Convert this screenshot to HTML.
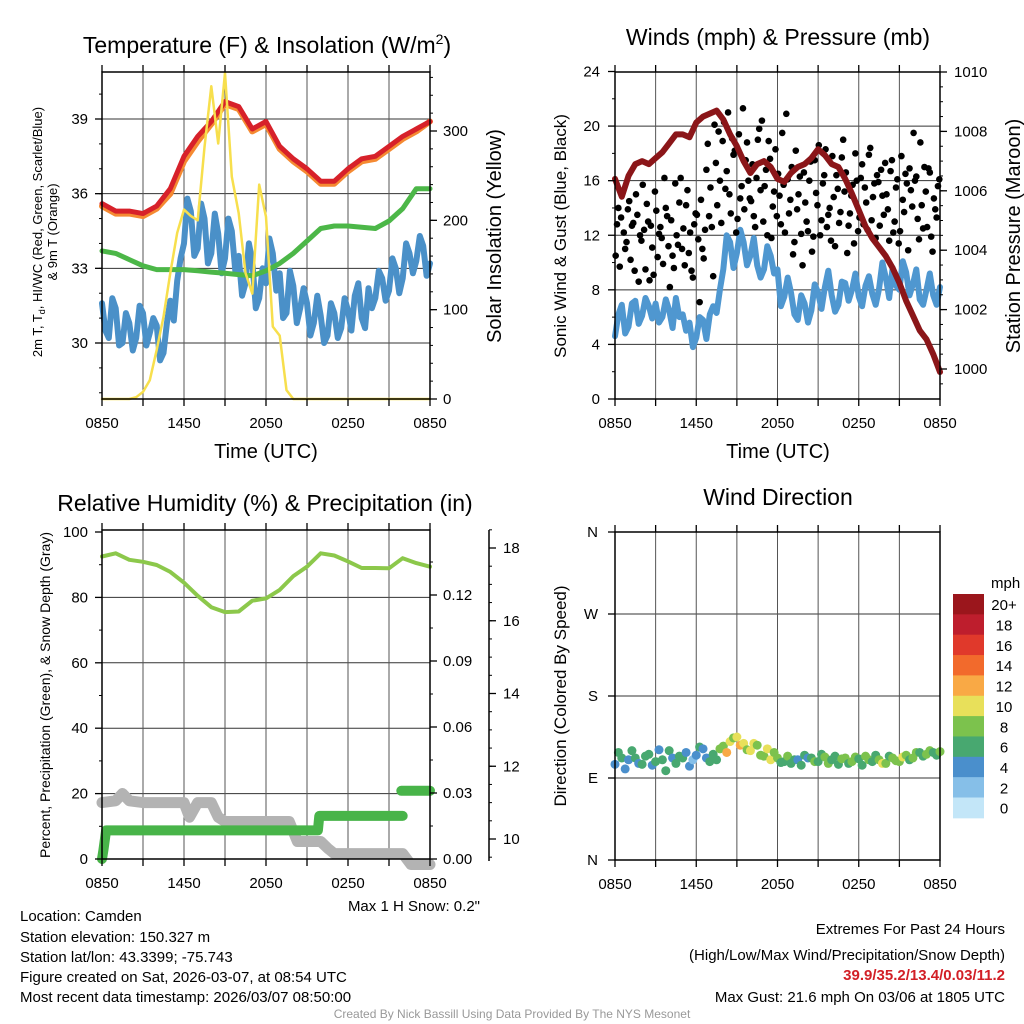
<!DOCTYPE html>
<html><head><meta charset="utf-8"><style>
html,body{margin:0;padding:0;background:#fff}
svg{display:block;font-family:"Liberation Sans",sans-serif}
</style></head><body>
<svg id="chart" width="1024" height="1024" viewBox="0 0 1024 1024" xmlns="http://www.w3.org/2000/svg">
<g id="grid"></g><g id="series"></g><g id="axes"></g>
<g id="texts" font-size="15" fill="#000">
<text x="267" y="53" font-size="23" text-anchor="middle">Temperature (F) &amp; Insolation (W/m<tspan font-size="14" dy="-9">2</tspan><tspan dy="9">)</tspan></text>
<text x="778" y="45" font-size="23" text-anchor="middle">Winds (mph) &amp; Pressure (mb)</text>
<text x="265" y="511" font-size="23" text-anchor="middle">Relative Humidity (%) &amp; Precipitation (in)</text>
<text x="778" y="505" font-size="23" text-anchor="middle">Wind Direction</text>
<text x="266" y="458" font-size="20" text-anchor="middle">Time (UTC)</text>
<text x="778" y="458" font-size="20" text-anchor="middle">Time (UTC)</text>
<text transform="translate(42,232) rotate(-90)" font-size="13" text-anchor="middle">2m T, T<tspan font-size="9" dy="3">d</tspan><tspan dy="-3">, HI/WC (Red, Green, Scarlet/Blue)</tspan></text>
<text transform="translate(57,232) rotate(-90)" font-size="13" text-anchor="middle">&amp; 9m T (Orange)</text>
<text transform="translate(501,236) rotate(-90)" font-size="20" text-anchor="middle">Solar Insolation (Yellow)</text>
<text transform="translate(566,236) rotate(-90)" font-size="17" text-anchor="middle">Sonic Wind &amp; Gust (Blue, Black)</text>
<text transform="translate(1020,236) rotate(-90)" font-size="20" text-anchor="middle">Station Pressure (Maroon)</text>
<text transform="translate(50,695) rotate(-90)" font-size="14" text-anchor="middle">Percent, Precipitation (Green), &amp; Snow Depth (Gray)</text>
<text transform="translate(566,696) rotate(-90)" font-size="17" text-anchor="middle">Direction (Colored By Speed)</text>
<text x="480" y="911" text-anchor="end">Max 1 H Snow: 0.2"</text>
<text x="20" y="921">Location: Camden</text>
<text x="20" y="942">Station elevation: 150.327 m</text>
<text x="20" y="962">Station lat/lon: 43.3399; -75.743</text>
<text x="20" y="982">Figure created on Sat, 2026-03-07, at 08:54 UTC</text>
<text x="20" y="1002">Most recent data timestamp: 2026/03/07 08:50:00</text>
<text x="1005" y="934" text-anchor="end">Extremes For Past 24 Hours</text>
<text x="1005" y="960" text-anchor="end">(High/Low/Max Wind/Precipitation/Snow Depth)</text>
<text x="1005" y="980" text-anchor="end" fill="#d21f26" font-weight="bold">39.9/35.2/13.4/0.03/11.2</text>
<text x="1005" y="1002" text-anchor="end">Max Gust: 21.6 mph On 03/06 at 1805 UTC</text>
<text x="512" y="1018" font-size="12" fill="#999" text-anchor="middle">Created By Nick Bassill Using Data Provided By The NYS Mesonet</text>
<text x="991" y="588" text-anchor="start">mph</text>
</g>
</svg>
<script>
// ---------- data ----------
const timeLabels = ["0850","1450","2050","0250","0850"];
const tempHourly = [35.6,35.3,35.3,35.2,35.5,36.2,37.5,38.3,38.9,39.7,39.5,38.6,38.9,37.9,37.4,37.0,36.5,36.5,37.0,37.4,37.5,37.9,38.3,38.6,38.9];
const temp9mHourly = [35.5,35.2,35.2,35.1,35.4,36.0,37.3,38.1,38.8,39.6,39.4,38.5,38.8,37.8,37.3,36.9,36.4,36.4,36.9,37.3,37.4,37.8,38.2,38.5,38.9];
const dewHourly = [33.7,33.6,33.35,33.1,32.95,32.95,32.95,32.9,32.85,32.8,32.75,32.7,32.9,33.2,33.6,34.1,34.6,34.7,34.7,34.65,34.6,34.9,35.4,36.2,36.2];
const windChillQuarter = [31.6,30.5,30.2,31.8,31.4,29.9,30.0,31.2,30.8,29.7,30.2,31.5,31.2,29.9,30.4,31.0,30.7,29.3,29.6,30.8,31.7,30.9,32.5,33.4,34.0,35.8,35.3,33.5,33.8,35.6,35.0,33.2,33.6,35.2,34.4,32.8,33.4,35.0,34.5,32.9,33.5,31.9,32.4,34.0,33.3,31.4,31.8,33.0,32.4,34.2,33.6,32.1,32.8,31.0,31.2,32.9,32.3,30.8,31.4,32.2,31.6,30.3,30.8,31.9,31.1,30.0,30.3,31.6,31.2,30.2,30.6,31.8,31.3,30.5,31.9,32.4,31.0,30.6,32.2,31.4,31.8,32.9,32.6,31.7,32.1,33.4,33.0,32.0,32.6,34.0,33.6,32.8,33.3,34.3,33.9,32.7,33.2];
const solarHalf = [0,0,0,0,0,2,8,21,55,92,141,186,212,205,200,282,350,286,365,249,208,141,118,240,204,81,71,10,0,0,0,0,0,0,0,0,0,0,0,0,0,0,0,0,0,0,0,0,0];
const windQuarter = [4.6,6.2,6.9,4.8,5.3,7.0,7.2,5.5,6.1,7.4,6.8,5.9,7.0,5.6,6.0,7.3,6.5,5.2,7.4,6.0,6.2,5.0,5.6,3.8,4.5,6.0,5.8,4.4,6.2,6.8,6.3,8.0,9.5,12.0,11.5,9.6,10.7,12.4,11.5,9.8,10.5,11.8,9.8,8.9,9.5,11.2,10.5,9.2,9.5,6.8,7.5,8.9,7.8,6.2,5.8,7.6,7.0,5.6,6.5,8.4,7.8,6.6,8.2,9.4,7.6,6.4,6.9,8.6,8.5,7.2,8.0,9.2,7.5,6.8,8.3,9.0,7.7,6.9,8.1,10.0,8.9,7.4,9.6,8.3,8.0,10.1,9.3,7.6,8.4,9.5,7.3,6.9,8.0,9.2,7.6,6.9,8.2];
const pressureHalf = [1006.4,1005.8,1006.5,1006.9,1007.0,1006.9,1007.1,1007.3,1007.6,1007.9,1007.9,1007.8,1008.3,1008.5,1008.6,1008.7,1008.4,1007.9,1007.5,1007.0,1006.6,1006.9,1007.0,1006.8,1006.4,1006.3,1006.6,1006.8,1006.9,1007.1,1007.4,1007.2,1006.9,1006.8,1006.4,1005.9,1005.35,1004.8,1004.4,1004.1,1003.8,1003.4,1002.9,1002.3,1001.8,1001.3,1001.0,1000.5,999.9];
const gusts = [10.5,14,13.3,12.2,11.5,14.5,12.7,9.4,13.5,12.0,15.7,9.5,13,12.7,9.1,13.8,12.1,11.8,16.2,13.4,8.2,10.5,15.8,11.3,16.2,12.5,14.2,10.7,9.4,12.8,13.5,7.1,11.0,12.4,18.7,15.5,9.0,17.3,19.6,12.9,20.3,16.7,15.0,19.1,18.2,13.2,14.7,21.3,17.5,16.0,14.5,13.4,16.2,19.8,20.4,15.6,12.0,17.6,14.1,18.3,16.5,12.8,15.7,20.9,13.6,17.0,11.5,13.9,16.3,9.8,14.4,12.3,17.4,11.9,15.1,18.6,13.1,16.4,12.6,14.0,17.8,11.2,15.4,13.7,19.0,16.6,12.7,14.9,11.4,16.0,13.3,17.2,15.5,12.4,18.4,14.8,11.8,15.9,16.8,13.5,15.0,11.6,17.5,13.0,16.1,12.3,14.6,16.5,10.9,15.3,19.5,16.3,11.7,14.2,17.0,12.6,16.6,10.8,13.9,15.6];
const gusts2 = [12.8,9.7,15.1,11.0,13.9,10.2,12.9,15.0,8.6,11.6,12.4,14.3,8.7,11.1,15.2,10.4,12.6,9.9,14.0,11.2,13.1,9.6,12.0,14.4,11.0,9.8,15.3,12.2,8.9,13.6,11.7,14.6,10.3,16.8,13.4,12.6,20.1,14.2,16.0,18.9,15.4,21.0,13.6,17.9,12.2,19.4,15.6,13.9,18.8,14.7,17.2,12.6,19.0,15.3,13.0,16.8,18.9,11.8,15.2,13.4,14.9,19.5,12.2,16.1,14.6,10.6,18.2,15.0,12.1,16.6,13.0,16.0,10.8,17.5,14.2,12.0,15.8,18.3,13.5,11.6,14.8,16.4,12.9,17.7,15.2,10.7,13.6,15.7,18.0,12.3,16.2,12.8,14.4,17.9,13.1,15.8,16.4,12.7,14.9,17.3,13.9,16.7,12.2,15.5,11.4,17.8,13.7,15.8,16.9,14.1,16.0,13.2,18.8,12.5,15.2,16.9,11.9,14.7,13.3,16.1];
const rhHourly = [92.5,93.5,91.5,90.9,89.9,87.8,84.5,80.5,77,75.5,75.7,79,79.7,82.3,86.5,89.4,93.5,92.8,91,89,89,88.9,92,90.5,89.4];
const precipTimes = [0,0.1,0.3,15.8,15.9,22.0];
const precipVals = [0,0.004,0.013,0.013,0.0196,0.0196];
const precip2Times = [21.9,24];
const precip2Vals = [0.031,0.031];
const snowTimes = [0,1,1.5,2,3,4,5,6,6.4,7,8,8.5,9,10,11,12,13,13.7,14.3,15,16,16.5,17,18,19,20,21,22,22.6,23,24];
const snowVals = [11.0,11.05,11.25,11.05,11.0,11.0,11.0,11.0,10.6,11.0,11.0,10.6,10.48,10.48,10.48,10.48,10.48,10.48,9.93,9.93,9.93,9.75,9.6,9.6,9.6,9.6,9.6,9.6,9.3,9.3,9.3];
const dirQuarter = [105,118,112,100,110,120,112,106,105,114,116,104,108,121,110,98,120,112,106,114,112,118,103,110,115,124,122,112,108,116,110,122,125,118,130,134,135,126,128,121,120,128,126,115,114,122,110,118,112,107,108,114,106,110,110,104,115,112,112,108,108,116,113,106,110,114,105,111,112,106,108,113,111,104,114,110,108,115,110,106,106,114,112,109,108,113,115,110,112,118,118,114,116,120,118,115,119];
const cbLabels = ["20+","18","16","14","12","10","8","6","4","2","0"];
const cbColors = ["#9b161c","#be1e2d","#e0392b","#f26a2c","#f9a945","#e8e05a","#7cc24d","#48a870","#4a8fcc","#86bfe8","#c3e6f8"];

// ---------- helpers ----------
const NS="http://www.w3.org/2000/svg";
const G=document.getElementById('grid'),S=document.getElementById('series'),A=document.getElementById('axes');
function mk(parent,tag,attrs){const e=document.createElementNS(NS,tag);for(const k in attrs)e.setAttribute(k,attrs[k]);parent.appendChild(e);return e;}
function lin(d0,d1,r0,r1){return v=>r0+(v-d0)*(r1-r0)/(d1-d0);}
function ln(p,x1,y1,x2,y2,c,w){return mk(p,'line',{x1,y1,x2,y2,stroke:c,'stroke-width':w});}
function tx(p,x,y,s,anchor,size){const t=mk(p,'text',{x,y,'text-anchor':anchor||'middle','font-size':size||15});t.textContent=s;return t;}
function poly(xs,ys,fx,fy,color,w,name){
  const pts=xs.map((t,i)=>fx(t).toFixed(1)+','+fy(ys[i]).toFixed(1)).join(' ');
  const e=mk(S,'polyline',{points:pts,fill:'none',stroke:color,'stroke-width':w,'stroke-linejoin':'round','stroke-linecap':'round'});
  
  
  return e;
}
const hoursOf=(n,step)=>Array.from({length:n},(_,i)=>i*step);

function frame(x0,y0,x1,y1,fx,name){
  const r=mk(A,'rect',{x:x0,y:y0,width:x1-x0,height:y1-y0,fill:'none',stroke:'#000','stroke-width':1.5});
  
  
  for(let h=0;h<=24;h+=3){const x=fx(h);ln(G,x,y0,x,y1,'#555',1);ln(A,x,y1,x,y1+7,'#000',1.3);ln(A,x,y0,x,y0-7,'#000',1.3);}
  timeLabels.forEach((l,i)=>{const t=tx(A,fx(i*6),y1+29,l,'middle',15);
    
    });
}

// ---------- Panel 1 ----------
(function(){
  const x0=102,x1=430,y0=72,y1=399;
  const fx=lin(0,24,x0,x1), fy=lin(30,39,343,119), fs=lin(0,300,399,131);
  [30,33,36,39].forEach(v=>{ln(G,x0,fy(v),x1,fy(v),'#333',1);ln(A,x0-7,fy(v),x0,fy(v),'#000',1.3);const t=tx(A,x0-14,fy(v)+5,String(v),'end');});
  for(let v=28;v<=40;v++)ln(A,x0-3,fy(v),x0,fy(v),'#000',1);
  [0,100,200,300].forEach(v=>{ln(A,x1,fs(v),x1+7,fs(v),'#000',1.3);const t=tx(A,x1+13,fs(v)+5,String(v),'start');});
  for(let v=0;v<=360;v+=20)ln(A,x1,fs(v),x1+3,fs(v),'#000',1);
  frame(x0,y0,x1,y1,fx,'temp-plot-frame');
  const hh=hoursOf(25,1), h2=hoursOf(49,0.5), h4=hoursOf(97,0.25);
  poly(h4,windChillQuarter,fx,fy,'#4a90c8',6,'windchill-line');
  poly(hh,dewHourly,fx,fy,'#4cb748',5,'dewpoint-line');
  poly(hh,temp9mHourly,fx,fy,'#f58a32',6,'temp-9m-line');
  poly(hh,tempHourly,fx,fy,'#d7212a',5,'temp-2m-line');
  poly(h2,solarHalf,fx,fs,'#f7df4d',2.5,'solar-line');
})();

// ---------- Panel 2 ----------
(function(){
  const x0=615,x1=940,y0=72,y1=399;
  const fx=lin(0,24,x0,x1), fy=lin(0,24,399,71.5), fp=lin(1000,1010,369,72);
  for(let v=0;v<=24;v+=4){if(v>0&&v<24)ln(G,x0,fy(v),x1,fy(v),'#333',1);ln(A,x0-7,fy(v),x0,fy(v),'#000',1.3);const t=tx(A,x0-15,fy(v)+5,String(v),'end');}
  for(let v=2;v<24;v+=4)ln(A,x0-3,fy(v),x0,fy(v),'#000',1);
  for(let v=1000;v<=1010;v+=2){ln(A,x1,fp(v),x1+7,fp(v),'#000',1.3);const t=tx(A,x1+14,fp(v)+5,String(v),'start');}
  for(let v=999.5;v<=1010;v+=0.5)ln(A,x1,fp(v),x1+3,fp(v),'#000',1);
  frame(x0,y0,x1,y1,fx,'wind-plot-frame');
  poly(hoursOf(97,0.25),windQuarter,fx,fy,'#4f97d0',6,'sonic-wind-line');
  gusts.forEach((g,i)=>{const c=mk(S,'circle',{cx:fx(i*0.2+0.05),cy:fy(g),r:3.3,fill:'#000'});
    
    });
  gusts2.forEach((g,i)=>{const c=mk(S,'circle',{cx:fx(i*0.2+0.15),cy:fy(g),r:3.3,fill:'#000'});
    
    });
  poly(hoursOf(49,0.5),pressureHalf,fx,fp,'#8b1619',6,'pressure-line');
})();

// ---------- Panel 3 ----------
(function(){
  const x0=102,x1=430,y0=530,y1=859,sx=489;
  const fx=lin(0,24,x0,x1), fy=lin(0,100,859,532), fpr=lin(0,0.03,859,793), fsn=lin(10,18,839,548);
  for(let v=0;v<=100;v+=20){if(v>0&&v<100)ln(G,x0,fy(v),x1,fy(v),'#333',1);ln(A,x0-7,fy(v),x0,fy(v),'#000',1.3);const t=tx(A,x0-14,fy(v)+5,String(v),'end');}
  for(let v=10;v<100;v+=20)ln(A,x0-3,fy(v),x0,fy(v),'#000',1);
  ["0.00","0.03","0.06","0.09","0.12"].forEach((l,i)=>{const v=i*0.03;ln(A,x1,fpr(v),x1+7,fpr(v),'#000',1.3);const t=tx(A,x1+13,fpr(v)+5,l,'start');});
  for(let v=0.015;v<0.15;v+=0.03)ln(A,x1,fpr(v),x1+3,fpr(v),'#000',1);
  ln(A,sx,y0,sx,y1+2,'#000',1.5);
  for(let v=10;v<=18;v+=2){ln(A,sx,fsn(v),sx+7,fsn(v),'#000',1.3);const t=tx(A,sx+14,fsn(v)+5,String(v),'start');}
  for(let v=9.5;v<=18.5;v+=0.5)ln(A,sx,fsn(v),sx+3,fsn(v),'#000',1);
  frame(x0,y0,x1,y1,fx,'rh-plot-frame');
  poly(snowTimes,snowVals,fx,fsn,'#b3b3b3',11,'snow-depth-line');
  poly(precipTimes,precipVals,fx,fpr,'#48b449',10,'precip-line');
  poly(precip2Times,precip2Vals,fx,fpr,'#48b449',10,'precip-line-late');
  poly(hoursOf(25,1),rhHourly,fx,fy,'#8cc84b',4,'rh-line');
})();

// ---------- Panel 4 ----------
(function(){
  const x0=615,x1=940,y0=532,y1=860;
  const fx=lin(0,24,x0,x1), fy=lin(0,360,860,532);
  ["N","E","S","W","N"].forEach((l,i)=>{const v=i*90;if(v>0&&v<360)ln(G,x0,fy(v),x1,fy(v),'#333',1);ln(A,x0-7,fy(v),x0,fy(v),'#000',1.3);const t=tx(A,x0-17,fy(v)+5,l,'end');});
  frame(x0,y0,x1,y1,fx,'direction-plot-frame');
  function col(s){const idx=s>=20?0:10-Math.floor(s/2);return cbColors[Math.max(0,Math.min(10,idx))];}
  dirQuarter.forEach((d,i)=>{const c=mk(S,'circle',{cx:fx(i*0.25),cy:fy(d),r:4.5,fill:col(windQuarter[i])});
    
    });
  const bx=953,by=594,bh=20.35;
  cbColors.forEach((c,i)=>{const r=mk(A,'rect',{x:bx,y:by+i*bh,width:31,height:bh+0.5,fill:c});
    
    
    const t=tx(A,1004,by+i*bh+bh/2+6,cbLabels[i],'middle',15);
    
    });
})();
</script>
</body></html>
